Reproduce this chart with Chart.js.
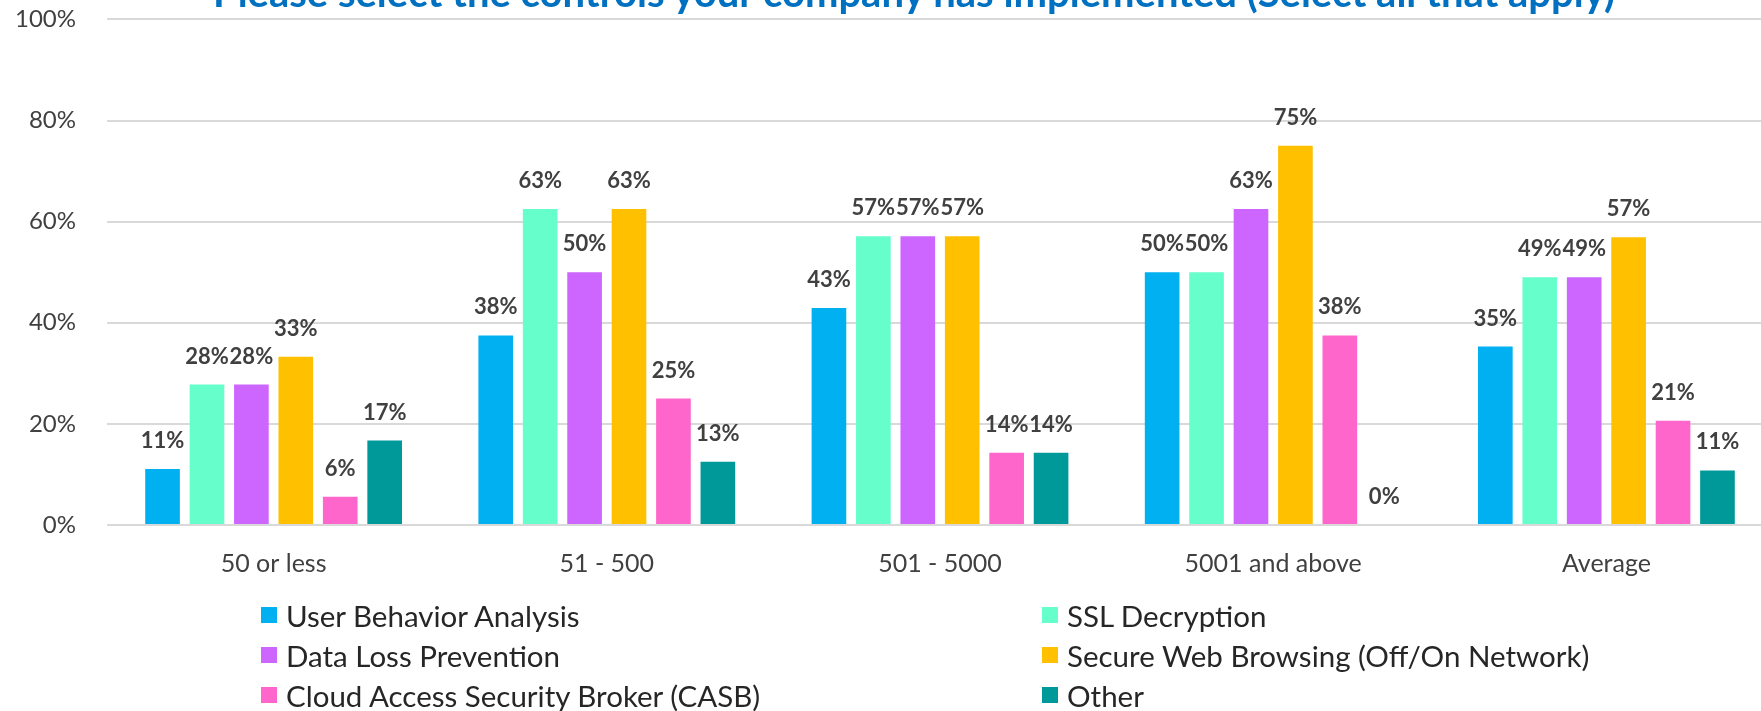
<!DOCTYPE html>
<html>
<head>
    <title>Controls Implemented</title>
    <style>
        body {
            margin: 0;
            width: 1761px;
            height: 711px;
            overflow: hidden;
            position: relative;
            background-color: #fff;
            font-family: Lato, sans-serif;
        }
        .chart-box {
            position: absolute;
            top: -26px;
            left: 0;
            width: 1828px;
            height: 646px;
        }
        #chartTitle {
            position: absolute;
            top: -32px;
            left: 0;
            width: 1828px;
            text-align: center;
            font-size: 40px;
            line-height: 48px;
            font-weight: bold;
            color: #0070C0;
            white-space: nowrap;
        }
        #legend {
            position: absolute;
            top: 595px;
            left: 261px;
            display: grid;
            grid-template-columns: 781px 600px;
            grid-auto-rows: 40px;
            font-size: 29.5px;
            color: #262626;
        }
        #legend div {
            display: flex;
            align-items: center;
            white-space: nowrap;
        }
        #legend span.box {
            display: inline-block;
            width: 16px;
            height: 16px;
            margin-right: 9px;
        }
    </style>
    <script src="https://cdn.jsdelivr.net/npm/chart.js"></script>
</head>
<body>
    <div class="chart-box">
        <canvas id="controlsChart"></canvas>
    </div>
    <div id="chartTitle">Please select the controls your company has implemented (Select all that apply)</div>
    <div id="legend"></div>

    <script>
        const categories = ['50 or less', '51 - 500', '501 - 5000', '5001 and above', 'Average'];

        const seriesNames = [
            'User Behavior Analysis',
            'SSL Decryption',
            'Data Loss Prevention',
            'Secure Web Browsing (Off/On Network)',
            'Cloud Access Security Broker (CASB)',
            'Other'
        ];
        const seriesColors = ['#00B0F0', '#66FFCC', '#CC66FF', '#FFC000', '#FF66CC', '#009999'];

        // percent of respondents, per company size
        const userBehavior = [11.1, 37.5, 42.9, 50, 35.3];
        const sslDecryption = [27.8, 62.5, 57.1, 50, 49.0];
        const dataLoss = [27.8, 50, 57.1, 62.5, 49.0];
        const secureWeb = [33.3, 62.5, 57.1, 75, 56.9];
        const casb = [5.6, 25, 14.3, 37.5, 20.6];
        const other = [16.7, 12.5, 14.3, 0, 10.8];

        const yTicks = [0, 20, 40, 60, 80, 100];

        const seriesValues = [userBehavior, sslDecryption, dataLoss, secureWeb, casb, other];

        // value labels above every bar
        const barLabels = {
            id: 'barLabels',
            afterDatasetsDraw(chart) {
                const ctx = chart.ctx;
                ctx.save();
                ctx.font = 'bold 22px Lato';
                ctx.fillStyle = '#404040';
                ctx.textAlign = 'center';
                ctx.textBaseline = 'middle';
                chart.data.datasets.forEach((ds, i) => {
                    chart.getDatasetMeta(i).data.forEach((bar, j) => {
                        ctx.fillText(Math.round(ds.data[j]) + '%', bar.x, bar.y - 28);
                    });
                });
                ctx.restore();
            }
        };

        var chart = new Chart(document.getElementById('controlsChart'), {
            type: 'bar',
            data: {
                labels: categories,
                datasets: seriesNames.map((name, i) => ({
                    label: name,
                    data: seriesValues[i],
                    backgroundColor: seriesColors[i],
                    categoryPercentage: 0.8,
                    barPercentage: 0.78
                }))
            },
            options: {
                responsive: true,
                maintainAspectRatio: false,
                animation: false,
                layout: {
                    padding: { top: 19, left: 0, right: 55, bottom: 17 }
                },
                plugins: {
                    legend: { display: false },
                    tooltip: { enabled: false },
                    title: { display: false }
                },
                scales: {
                    x: {
                        grid: { display: false, drawTicks: false },
                        border: { display: false },
                        ticks: {
                            color: '#404040',
                            padding: 24,
                            font: { family: 'Lato', size: 25 }
                        }
                    },
                    y: {
                        min: 0,
                        max: 100,
                        afterFit: (scale) => { scale.width = 107; },
                        afterBuildTicks: (scale) => {
                            scale.ticks = yTicks.map(v => ({ value: v }));
                        },
                        grid: { color: '#D9D9D9', lineWidth: 2, drawTicks: false },
                        border: { display: false },
                        ticks: {
                            color: '#404040',
                            padding: 31,
                            font: { family: 'Lato', size: 24 },
                            callback: v => v + '%'
                        }
                    }
                }
            },
            plugins: [barLabels]
        });

        // two-column legend like the original
        const legend = document.getElementById('legend');
        chart.data.datasets.forEach(ds => {
            const item = document.createElement('div');
            const box = document.createElement('span');
            box.className = 'box';
            box.style.backgroundColor = ds.backgroundColor;
            item.appendChild(box);
            item.appendChild(document.createTextNode(ds.label));
            legend.appendChild(item);
        });
    </script>
</body>
</html>
